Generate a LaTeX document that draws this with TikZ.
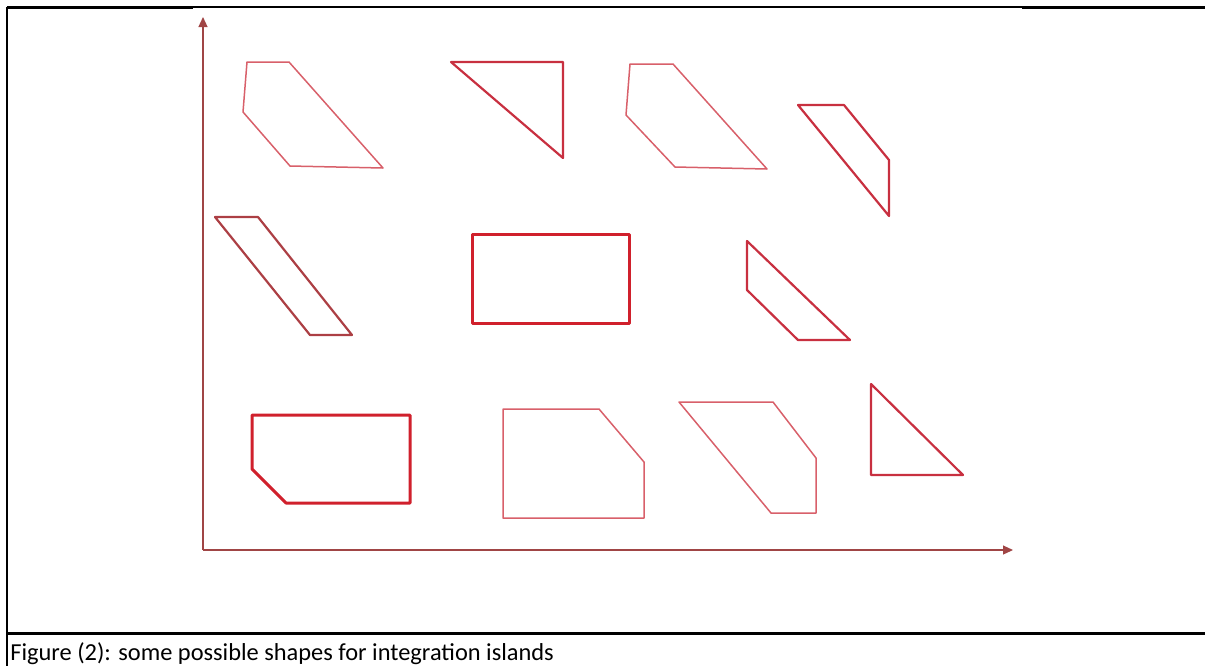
\documentclass[tikz,border=0pt]{standalone}
\usepackage{fontspec}
\setmainfont{Carlito}
\usetikzlibrary{arrows.meta}
\definecolor{axiscol}{HTML}{A04545}
\definecolor{redA}{HTML}{D0202C}
\definecolor{redB}{HTML}{C83040}
\definecolor{pinkA}{HTML}{D8606A}
\tikzset{
  frameline/.style={line width=1.5pt,black},
  framethin/.style={line width=0.8pt,black},
  axisline/.style={axiscol,line width=0.6pt,-{Triangle[length=5pt,width=4.5pt]}},
  thinshape/.style={pinkA,line width=0.75pt,line join=round},
  midshape/.style={redB,line width=1.1pt,line join=round},
  thickshape/.style={redA,line width=1.5pt,line join=round},
}
\begin{document}
\begin{tikzpicture}[x=0.5pt,y=-0.5pt]
\useasboundingbox (0,0) rectangle (1205,666);
% frame
\draw[frameline] (7,7) -- (193,7);
\draw[framethin] (193,7) -- (1022,7);
\draw[frameline] (1022,7) -- (1205,7);
\draw[framethin] (7,7) -- (7,666);
\draw[frameline] (7,633) -- (1205,633);
% axes
\coordinate (O) at (203,550);
\coordinate (Ytip) at (203,17);
\coordinate (Xtip) at (1013,550);
\draw[axisline] (O) -- (Ytip);
\draw[axisline] (O) -- (Xtip);
% row 1
\draw[thinshape] (247,62) -- (289,62) -- (383,168) -- (290,166) -- (243,112) -- cycle;
\draw[midshape] (451,62) -- (563,62) -- (563,158) -- cycle;
\draw[thinshape] (630,64) -- (673,64) -- (767,169) -- (675,167) -- (626,115) -- cycle;
\draw[midshape] (798,105) -- (844,105) -- (889,160) -- (889,216) -- cycle;
% row 2
\draw[midshape,color=axiscol!70!redB] (215,217) -- (258,217) -- (352,335) -- (310,335) -- cycle;
\draw[thickshape] (472,234) rectangle (629,323);
\draw[midshape] (747,241) -- (747,290) -- (798,340) -- (850,340) -- cycle;
% row 3
\draw[thickshape] (252,415) -- (410,415) -- (410,503) -- (286,503) -- (252,469) -- cycle;
\draw[thinshape] (503,409) -- (599,409) -- (644,462) -- (644,518) -- (503,518) -- cycle;
\draw[thinshape] (679,402) -- (773,402) -- (816,458) -- (816,513) -- (771,513) -- cycle;
\draw[midshape] (871,384) -- (871,475) -- (963,475) -- cycle;
% caption
\node[anchor=base west,inner sep=0pt,font=\fontsize{12.2pt}{14pt}\selectfont] (cap) at (10,660) {Figure (2): some possible shapes for integration islands};
\end{tikzpicture}
\end{document}
